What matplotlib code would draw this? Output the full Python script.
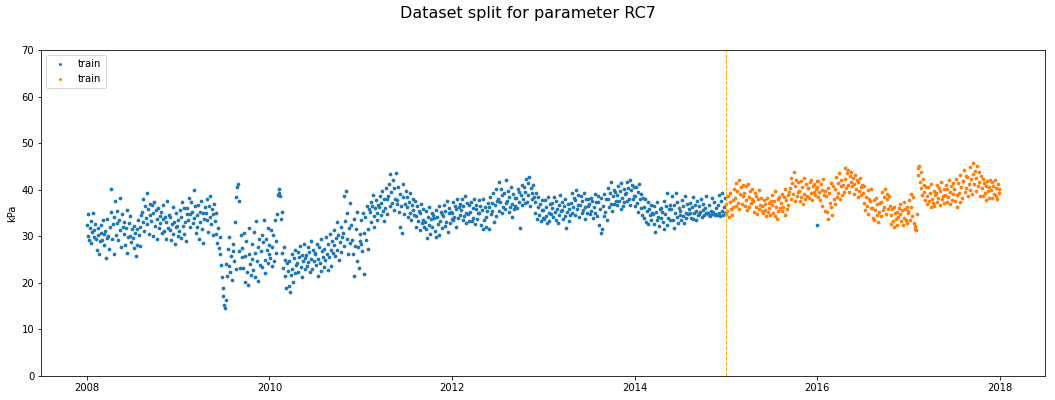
import matplotlib
matplotlib.use("Agg")
import matplotlib.pyplot as plt
import matplotlib.dates as mdates
import pandas as pd

# RC7 readings (kPa), 120 samples per year
rc7_2008 = [32.5, 30.1, 34.8, 29.3, 31.7, 33.2, 28.6, 30.9, 35.1, 31.4, 29.8, 32.6,
            29.4, 27.1, 31.8, 30.3, 26.2, 28.9, 32.4, 30.7, 29.1, 33.6, 28.2, 30.5,
            31.2, 25.4, 29.6, 33.8, 30.1, 27.3, 31.9, 35.2, 40.1, 29.4, 32.7, 26.1,
            34.1, 37.6, 30.2, 32.8, 35.4, 29.1, 33.6, 38.2, 31.4, 27.6, 34.7, 32.0,
            30.4, 33.1, 28.2, 31.7, 35.6, 26.5, 29.8, 32.9, 30.1, 34.3, 28.7, 31.5,
            29.6, 32.3, 27.4, 30.8, 25.7, 31.6, 28.1, 33.4, 30.2, 27.9, 32.1, 34.5,
            35.3, 33.1, 37.9, 31.2, 36.4, 34.0, 39.2, 32.6, 35.8, 30.4, 36.9, 34.6,
            33.2, 36.8, 30.1, 34.9, 37.4, 32.3, 35.6, 29.4, 33.7, 36.1, 31.8, 34.4,
            32.9, 35.3, 30.6, 33.8, 36.7, 31.2, 34.1, 29.5, 33.0, 37.5, 31.7, 34.6,
            31.4, 34.2, 29.1, 32.7, 36.3, 30.5, 33.1, 28.4, 31.9, 35.0, 32.3, 30.0]
rc7_2009 = [33.4, 31.2, 35.7, 29.6, 34.1, 37.3, 32.2, 30.5, 36.0, 33.0, 28.9, 34.8,
            36.1, 33.5, 38.2, 34.7, 31.9, 37.4, 35.2, 32.8, 39.9, 34.0, 36.6, 30.7,
            34.5, 32.1, 36.8, 29.4, 35.3, 33.0, 37.6, 31.5, 34.9, 28.6, 33.8, 36.2,
            35.1, 37.9, 33.4, 31.0, 36.4, 34.2, 38.6, 32.6, 35.8, 30.3, 34.7, 36.9,
            33.2, 30.4, 35.1, 28.6, 31.7, 27.4, 29.9, 26.1, 23.8, 21.3, 19.0, 17.2,
            15.2, 14.6, 16.3, 24.1, 21.5, 27.2, 23.6, 29.8, 22.4, 25.7, 20.6, 26.9,
            28.3, 24.7, 33.1, 22.9, 38.4, 40.6, 41.2, 37.5, 26.8, 23.1, 30.2, 25.5,
            27.4, 23.2, 30.6, 20.1, 25.8, 28.9, 22.4, 19.6, 26.3, 31.8, 24.0, 21.7,
            25.1, 28.4, 22.7, 30.9, 26.5, 21.3, 33.2, 24.6, 27.8, 20.4, 29.5, 23.9,
            26.8, 30.2, 23.5, 28.7, 33.6, 25.0, 22.1, 29.4, 27.1, 31.8, 24.3, 26.2]
rc7_2010 = [28.1, 25.3, 31.4, 23.7, 27.6, 30.2, 24.8, 33.5, 26.4, 29.0, 34.7, 38.9,
            40.1, 39.2, 38.6, 33.7, 35.2, 26.5, 23.1, 27.8, 21.4, 25.0, 18.9, 24.3,
            22.6, 19.4, 24.8, 18.1, 21.7, 26.3, 23.0, 20.2, 25.4, 22.1, 27.0, 23.8,
            24.2, 26.7, 22.3, 25.5, 27.9, 23.4, 21.2, 26.0, 24.8, 28.4, 22.9, 25.3,
            25.9, 23.6, 27.8, 24.4, 26.6, 22.4, 28.9, 25.2, 23.0, 27.1, 24.7, 26.3,
            26.4, 23.9, 28.3, 21.5, 25.1, 27.6, 24.2, 29.4, 22.6, 26.8, 25.5, 23.3,
            27.3, 24.9, 29.8, 26.1, 22.8, 28.4, 25.6, 30.5, 27.0, 23.7, 28.9, 26.4,
            28.2, 31.4, 25.8, 29.6, 33.1, 27.0, 30.3, 24.9, 28.8, 32.0, 26.7, 29.9,
            30.6, 38.7, 27.9, 33.2, 39.8, 29.4, 35.1, 26.3, 31.7, 37.2, 28.5, 32.4,
            29.3, 26.1, 33.8, 21.4, 28.0, 31.5, 24.7, 35.2, 27.6, 23.2, 30.4, 28.9]
rc7_2011 = [28.4, 33.6, 26.9, 35.1, 30.7, 21.8, 34.2, 29.3, 36.4, 31.5, 27.2, 35.8,
            35.2, 37.4, 33.1, 36.6, 38.9, 34.3, 32.0, 36.0, 37.8, 34.9, 33.6, 36.8,
            36.3, 38.6, 34.5, 37.2, 39.8, 35.4, 33.2, 37.9, 36.0, 40.4, 34.8, 38.1,
            38.7, 41.2, 36.4, 43.3, 39.5, 37.1, 42.1, 35.6, 40.3, 38.0, 43.6, 36.9,
            37.8, 40.6, 35.2, 32.1, 39.1, 36.4, 30.8, 38.5, 41.3, 34.7, 37.0, 39.7,
            36.2, 38.4, 34.1, 37.3, 35.0, 39.2, 33.5, 36.8, 35.6, 38.0, 34.6, 37.5,
            34.3, 32.1, 36.4, 33.2, 35.5, 31.4, 34.9, 37.0, 32.8, 35.9, 33.6, 31.9,
            33.1, 35.4, 31.6, 29.6, 34.2, 32.5, 36.3, 30.4, 33.8, 35.0, 31.9, 34.6,
            33.9, 31.2, 35.6, 29.8, 34.1, 32.7, 36.5, 30.2, 33.3, 35.2, 31.8, 34.7,
            34.4, 36.7, 32.3, 35.5, 33.1, 37.6, 31.0, 34.9, 36.1, 32.8, 35.3, 33.7]
rc7_2012 = [35.1, 33.4, 37.3, 34.2, 36.5, 32.1, 35.8, 38.0, 33.9, 36.2, 34.6, 37.0,
            35.7, 37.9, 33.6, 36.4, 34.3, 38.6, 32.9, 35.1, 37.2, 34.8, 36.8, 33.2,
            35.3, 37.4, 33.2, 36.1, 34.0, 38.1, 32.6, 35.9, 36.8, 33.8, 35.0, 37.7,
            34.9, 36.6, 32.4, 35.7, 31.5, 37.9, 33.5, 36.2, 34.2, 32.0, 35.5, 37.1,
            36.2, 31.6, 38.4, 34.7, 37.1, 35.5, 39.3, 33.1, 36.8, 40.2, 34.3, 37.6,
            38.0, 41.6, 35.4, 37.3, 40.1, 34.9, 38.8, 36.2, 39.4, 35.8, 42.0, 37.1,
            37.6, 39.8, 35.3, 38.4, 36.2, 40.5, 34.1, 37.0, 39.1, 35.8, 38.2, 36.6,
            38.3, 36.1, 40.2, 37.4, 39.5, 31.8, 38.9, 41.0, 36.7, 38.0, 40.6, 37.2,
            39.6, 42.2, 37.4, 41.5, 38.8, 42.8, 36.6, 40.3, 39.2, 37.9, 41.1, 38.4,
            37.4, 35.1, 39.3, 33.8, 36.2, 38.4, 34.5, 36.9, 33.2, 37.8, 35.6, 34.0]
rc7_2013 = [35.6, 33.7, 37.8, 34.4, 36.3, 32.9, 38.5, 35.0, 33.3, 36.9, 34.8, 37.1,
            36.1, 34.2, 38.4, 35.3, 33.5, 37.5, 35.9, 32.8, 36.7, 34.6, 38.9, 35.4,
            35.7, 37.3, 33.8, 36.5, 34.4, 38.1, 31.8, 35.2, 36.9, 33.2, 35.9, 34.6,
            37.2, 35.1, 39.4, 36.3, 38.2, 34.5, 37.8, 40.0, 35.8, 36.7, 38.8, 34.2,
            36.8, 38.6, 34.9, 37.5, 35.6, 39.2, 33.8, 36.2, 38.0, 35.1, 37.9, 36.4,
            36.9, 34.7, 38.3, 35.5, 37.6, 33.9, 36.2, 39.0, 35.0, 37.3, 34.4, 38.6,
            37.4, 32.4, 35.8, 30.8, 38.2, 31.5, 36.6, 34.3, 39.1, 35.2, 37.9, 33.6,
            38.1, 40.4, 36.2, 39.3, 37.0, 41.6, 35.5, 38.7, 40.0, 36.9, 39.6, 37.5,
            38.9, 36.7, 40.8, 37.6, 39.7, 35.9, 41.4, 38.2, 36.4, 40.1, 37.3, 39.0,
            39.4, 41.7, 37.5, 40.3, 38.1, 42.1, 36.8, 39.9, 41.0, 37.9, 40.6, 38.6]
rc7_2014 = [38.7, 36.4, 40.6, 37.2, 39.5, 35.3, 41.2, 37.9, 36.0, 39.0, 34.6, 38.2,
            36.2, 34.0, 38.1, 33.1, 35.4, 37.3, 32.6, 35.9, 34.5, 36.8, 33.6, 35.0,
            34.8, 32.7, 36.6, 30.9, 35.2, 33.4, 37.4, 34.1, 32.2, 35.8, 33.9, 36.0,
            35.3, 33.0, 37.6, 31.6, 34.7, 36.4, 32.5, 39.2, 34.0, 35.9, 33.4, 36.8,
            35.8, 38.6, 33.4, 36.7, 31.7, 35.1, 39.4, 34.2, 37.3, 32.8, 36.0, 34.6,
            35.4, 33.6, 37.8, 34.4, 36.5, 32.9, 38.7, 35.0, 33.9, 36.9, 34.7, 35.9,
            35.1, 37.2, 34.0, 36.3, 33.8, 38.4, 34.9, 36.8, 35.5, 33.5, 37.5, 34.6,
            34.8, 36.5, 35.3, 38.1, 34.2, 35.7, 37.0, 34.5, 36.1, 35.0, 38.6, 34.9,
            35.0, 34.6, 36.7, 34.4, 35.5, 38.3, 34.8, 35.2, 37.4, 34.5, 36.0, 34.7,
            34.6, 36.8, 35.1, 38.9, 34.4, 37.6, 35.4, 39.4, 34.5, 36.3, 38.2, 34.9]
rc7_2015 = [34.8, 36.9, 35.5, 38.6, 34.2, 37.3, 39.4, 35.9, 34.6, 37.8, 36.2, 40.1,
            38.3, 41.5, 36.4, 39.8, 37.2, 42.0, 35.8, 39.1, 40.6, 36.9, 38.7, 41.1,
            39.2, 36.5, 40.7, 37.8, 35.6, 41.3, 38.4, 36.2, 39.8, 37.1, 40.2, 38.0,
            37.5, 35.2, 39.4, 36.3, 38.6, 34.8, 37.9, 40.0, 35.9, 36.8, 38.2, 35.5,
            36.4, 34.9, 37.8, 35.6, 36.9, 34.3, 38.3, 35.2, 37.1, 36.0, 34.6, 37.5,
            36.8, 38.9, 35.1, 37.6, 34.3, 39.7, 36.2, 33.8, 37.9, 35.5, 38.4, 36.0,
            37.2, 35.4, 39.1, 36.3, 38.5, 34.6, 40.2, 37.8, 35.9, 38.9, 36.7, 39.6,
            40.3, 42.6, 38.1, 41.4, 39.0, 43.8, 37.5, 40.9, 42.1, 38.6, 41.7, 39.5,
            39.8, 37.6, 41.9, 38.4, 40.6, 36.9, 42.5, 39.1, 37.9, 41.2, 38.7, 40.3,
            40.4, 38.3, 41.6, 39.2, 42.0, 37.7, 40.9, 39.6, 41.3, 38.8, 40.1, 41.8]
rc7_2016 = [40.6, 38.4, 41.9, 39.5, 37.8, 41.2, 36.5, 40.0, 42.3, 38.9, 35.4, 39.7,
            38.6, 35.2, 40.3, 33.8, 39.4, 37.1, 41.5, 36.3, 34.6, 40.8, 38.0, 36.9,
            40.2, 42.8, 38.4, 41.5, 39.3, 43.6, 37.9, 40.8, 42.1, 38.9, 41.0, 39.6,
            42.3, 44.6, 40.4, 43.5, 41.1, 44.2, 39.6, 42.9, 41.7, 43.8, 40.8, 42.5,
            41.3, 39.1, 43.2, 40.2, 42.0, 38.4, 41.7, 39.8, 42.6, 40.6, 38.9, 41.0,
            39.4, 37.2, 40.8, 35.6, 38.5, 36.4, 39.9, 34.7, 38.0, 37.5, 40.1, 36.0,
            36.1, 34.0, 37.8, 33.4, 35.6, 38.3, 34.6, 36.9, 33.1, 35.2, 37.2, 34.3,
            37.3, 39.5, 35.6, 38.4, 36.2, 40.1, 34.8, 37.9, 39.0, 35.9, 38.6, 36.5,
            34.5, 32.6, 35.8, 33.3, 36.2, 31.9, 34.9, 33.7, 35.3, 32.4, 34.1, 36.0,
            34.8, 36.9, 33.2, 35.6, 32.5, 37.4, 34.0, 35.9, 33.6, 36.3, 32.9, 35.1]
rc7_2017 = [35.4, 37.8, 33.6, 39.1, 36.2, 34.4, 38.5, 32.8, 31.6, 32.2, 31.4, 34.7,
            44.6, 43.2, 45.0, 41.7, 40.3, 43.8, 38.9, 42.4, 39.6, 41.1, 37.8, 40.5,
            38.7, 36.9, 40.6, 37.5, 39.4, 36.3, 41.2, 38.1, 37.2, 39.8, 36.6, 38.9,
            39.3, 37.4, 41.1, 38.2, 40.4, 36.8, 39.8, 41.7, 37.9, 38.7, 40.1, 37.1,
            38.9, 41.0, 37.3, 40.2, 38.4, 42.1, 36.9, 39.5, 40.7, 37.8, 39.1, 41.4,
            40.1, 37.6, 42.3, 38.8, 36.2, 41.5, 39.2, 43.1, 37.4, 40.6, 38.3, 41.8,
            41.9, 44.2, 39.6, 43.0, 40.4, 42.7, 38.7, 41.3, 44.8, 40.0, 42.2, 39.1,
            43.4, 45.8, 41.2, 44.1, 39.8, 42.6, 45.1, 40.7, 43.7, 41.6, 38.6, 42.9,
            40.3, 42.4, 38.6, 41.5, 39.2, 40.9, 37.8, 41.9, 39.7, 38.3, 40.6, 42.1,
            39.9, 41.6, 38.2, 40.7, 39.0, 42.0, 38.7, 40.4, 37.9, 41.2, 39.4, 40.1]

# odd blue reading sitting in the second block
extra_dates = ["2016-01-01"]
extra_values = [32.5]

split_date = "2015-01-01"
train_years = [2008, 2009, 2010, 2011, 2012, 2013, 2014]
test_years = [2015, 2016, 2017]
yearly = {2008: rc7_2008, 2009: rc7_2009, 2010: rc7_2010, 2011: rc7_2011,
          2012: rc7_2012, 2013: rc7_2013, 2014: rc7_2014, 2015: rc7_2015,
          2016: rc7_2016, 2017: rc7_2017}


def build_series(years):
    parts = []
    for yr in years:
        vals = yearly[yr]
        idx = pd.date_range(f"{yr}-01-01", f"{yr}-12-31", periods=len(vals))
        parts.append(pd.Series(vals, index=idx))
    return pd.concat(parts)


train = build_series(train_years)
train = pd.concat([train, pd.Series(extra_values, index=pd.to_datetime(extra_dates))])
second = build_series(test_years)

fig = plt.figure(figsize=(1055 / 72, 400 / 72), dpi=72)
ax = fig.add_axes([0.039, 0.06, 0.9515, 0.815])

ax.scatter(train.index, train.values, s=14, color="tab:blue", linewidths=0, label="train")
ax.scatter(second.index, second.values, s=14, color="tab:orange", linewidths=0, label="train")
ax.axvline(pd.Timestamp(split_date), color="orange", linestyle="--", linewidth=1)

ax.xaxis.set_major_locator(mdates.YearLocator(2))
ax.xaxis.set_major_formatter(mdates.DateFormatter("%Y"))
ax.set_ylim(0, 70)
ax.set_ylabel("kPa")
ax.legend(loc="upper left", markerscale=0.8)
fig.suptitle("Dataset split for parameter RC7", fontsize=16, y=0.985)

plt.savefig("out.png", dpi=72)
